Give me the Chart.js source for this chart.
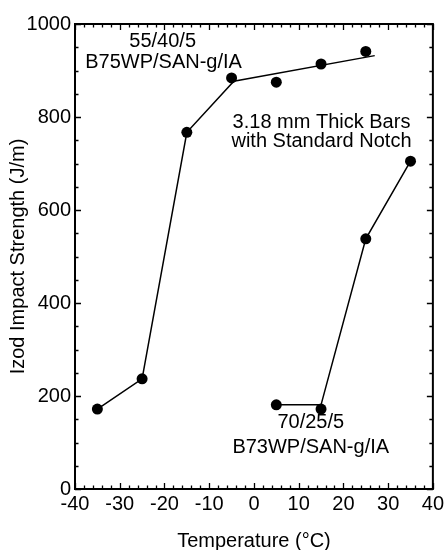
<!DOCTYPE html>
<html>
<head>
<meta charset="utf-8">
<script src="https://cdn.jsdelivr.net/npm/chart.js@4/dist/chart.umd.min.js"></script>
<style>
  html, body { margin: 0; padding: 0; background: #fff; }
  #wrap { width: 447px; height: 550px; }
</style>
</head>
<body>
<div id="wrap"><canvas id="c" width="447" height="550"></canvas></div>
<script>
// 55/40/5 B75WP/SAN-g/IA: measured Izod values
const tempA = [-35, -25, -15, -5, 5, 15, 25];
const izodA = [172, 237, 767, 884, 875, 914, 941];
// trend line through the 55/40/5 blend
const fitTempA = [-35, -25, -15, -4.5, 27];
const fitIzodA = [172, 237, 767, 877, 932];

// 70/25/5 B73WP/SAN-g/IA: measured Izod values
const tempB = [5, 15, 25, 35];
const izodB = [181, 172, 538, 705];
// trend line through the 70/25/5 blend
const fitTempB = [5, 15, 25, 35];
const fitIzodB = [181, 181, 538, 705];

// axis ticks
const xTicks = [-40, -30, -20, -10, 0, 10, 20, 30, 40];
const yTicks = [0, 200, 400, 600, 800, 1000];

// text placed inside the plot, in data units
const notes = [
  { text: '55/40/5', x: -20.4, y: 963 },
  { text: 'B75WP/SAN-g/IA', x: -20.2, y: 918 },
  { text: '3.18 mm Thick Bars', x: 15.1, y: 789 },
  { text: 'with Standard Notch', x: 15.1, y: 748 },
  { text: '70/25/5', x: 12.7, y: 142 },
  { text: 'B73WP/SAN-g/IA', x: 12.7, y: 90 }
];

const FONT = "'Liberation Sans', Arial, Helvetica, sans-serif";
const pts = (xs, ys) => xs.map((x, i) => ({ x: x, y: ys[i] }));

// frame plus inward major/minor ticks on all four sides
const frameTicks = {
  id: 'frameTicks',
  afterDatasetsDraw(chart) {
    const { ctx, chartArea: a, scales: { x, y } } = chart;
    ctx.save();
    ctx.strokeStyle = '#000';
    ctx.lineWidth = 1.3;
    ctx.beginPath();
    for (let v = -40; v <= 40; v += 2) {
      const px = Math.round(x.getPixelForValue(v)) + 0.5;
      const len = (v % 10 === 0) ? 6 : 3.5;
      ctx.moveTo(px, a.bottom); ctx.lineTo(px, a.bottom - len);
      ctx.moveTo(px, a.top); ctx.lineTo(px, a.top + len);
    }
    for (let v = 0; v <= 1000; v += 50) {
      const py = Math.round(y.getPixelForValue(v)) + 0.5;
      const len = (v % 200 === 0) ? 6 : 3.5;
      ctx.moveTo(a.left, py); ctx.lineTo(a.left + len, py);
      ctx.moveTo(a.right, py); ctx.lineTo(a.right - len, py);
    }
    ctx.stroke();
    ctx.lineWidth = 2;
    ctx.strokeRect(a.left, a.top, a.right - a.left, a.bottom - a.top);
    ctx.restore();
  }
};

// series captions
const captions = {
  id: 'captions',
  afterDatasetsDraw(chart) {
    const { ctx, scales: { x, y } } = chart;
    ctx.save();
    ctx.fillStyle = '#000';
    ctx.font = '20px ' + FONT;
    ctx.textAlign = 'center';
    ctx.textBaseline = 'middle';
    notes.forEach(n => ctx.fillText(n.text, x.getPixelForValue(n.x), y.getPixelForValue(n.y)));
    ctx.restore();
  }
};

new Chart(document.getElementById('c'), {
  type: 'scatter',
  data: {
    datasets: [
      { label: '55/40/5 B75WP/SAN-g/IA', data: pts(tempA, izodA), showLine: false,
        pointRadius: 5.5, pointBackgroundColor: '#000', pointBorderColor: '#000', pointBorderWidth: 0 },
      { label: '70/25/5 B73WP/SAN-g/IA', data: pts(tempB, izodB), showLine: false,
        pointRadius: 5.5, pointBackgroundColor: '#000', pointBorderColor: '#000', pointBorderWidth: 0 },
      { label: 'trend 55/40/5', data: pts(fitTempA, fitIzodA), showLine: true, pointRadius: 0,
        borderColor: '#000', borderWidth: 1.5, tension: 0 },
      { label: 'trend 70/25/5', data: pts(fitTempB, fitIzodB), showLine: true, pointRadius: 0,
        borderColor: '#000', borderWidth: 1.5, tension: 0 }
    ]
  },
  options: {
    responsive: false,
    animation: false,
    devicePixelRatio: 1,
    layout: { padding: { left: 0, right: 12, top: 24, bottom: 0 } },
    plugins: { legend: { display: false }, tooltip: { enabled: false } },
    scales: {
      x: {
        type: 'linear', min: -40, max: 40,
        afterBuildTicks: s => { s.ticks = xTicks.map(v => ({ value: v })); },
        afterFit: s => { s.height = 61; },
        grid: { display: false, drawTicks: false },
        border: { display: false },
        ticks: { color: '#000', padding: 3, font: { family: FONT, size: 20 }, callback: v => String(v) },
        title: { display: true, text: 'Temperature (°C)', color: '#000',
                 font: { family: FONT, size: 20 }, padding: { top: 0, bottom: -3 } }
      },
      y: {
        type: 'linear', min: 0, max: 1000,
        afterBuildTicks: s => { s.ticks = yTicks.map(v => ({ value: v })); },
        afterFit: s => { s.width = 75; },
        grid: { display: false, drawTicks: false },
        border: { display: false },
        ticks: { color: '#000', padding: 4, font: { family: FONT, size: 20 }, callback: v => String(v) },
        title: { display: true, text: 'Izod Impact Strength (J/m)', color: '#000',
                 font: { family: FONT, size: 20 }, padding: { top: 6, bottom: 0 } }
      }
    }
  },
  plugins: [frameTicks, captions]
});
</script>
</body>
</html>
